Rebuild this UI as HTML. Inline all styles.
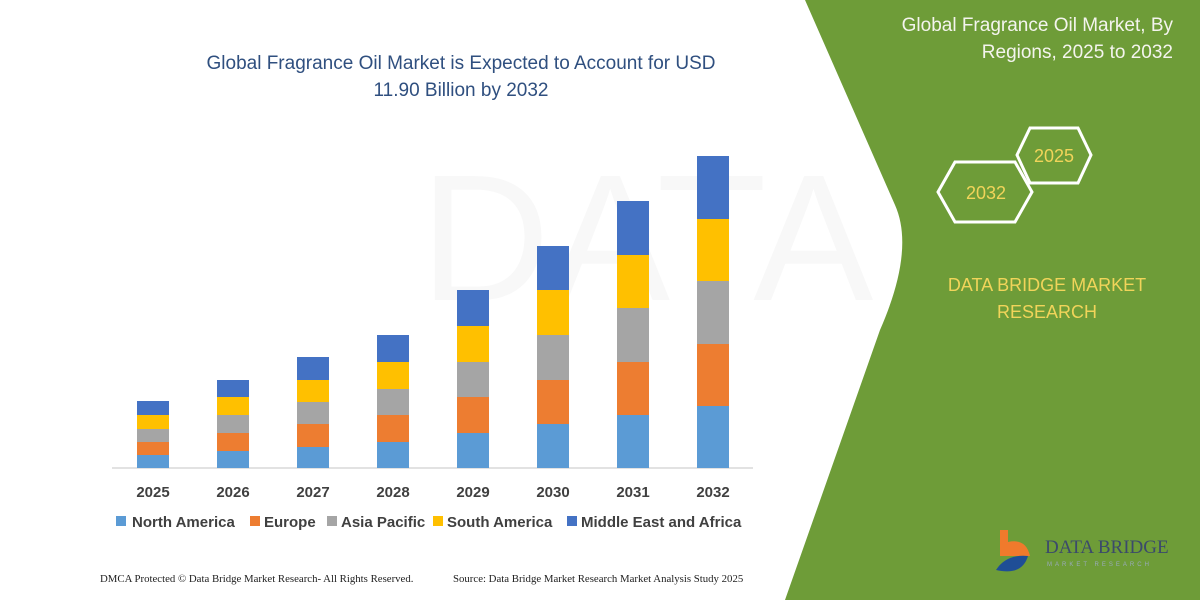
<!DOCTYPE html>
<html><head><meta charset="utf-8"><style>
body{margin:0;width:1200px;height:600px;overflow:hidden;background:#fff;font-family:"Liberation Sans",sans-serif}
</style></head><body>
<svg width="1200" height="600" xmlns="http://www.w3.org/2000/svg" style="position:absolute;left:0;top:0">
<rect width="1200" height="600" fill="#fff"/>
<text x="420" y="300" font-size="180" fill="#f8f8f8" font-family="Liberation Sans">DATA BRIDGE</text>
<path d="M805,0 L1200,0 L1200,600 L785,600 L880,330 Q915,250 895,205 Z" fill="#6e9c38"/>
<text x="1173" y="31" text-anchor="end" font-size="19" fill="#f4f4ee">Global Fragrance Oil Market, By</text>
<text x="1173" y="58" text-anchor="end" font-size="19" fill="#f4f4ee">Regions, 2025 to 2032</text>
<polygon points="1017,155 1030,128 1078,128 1091,155 1078,183 1030,183" fill="none" stroke="#fff" stroke-width="3"/>
<polygon points="938,192 955,162 1015,162 1032,192 1015,222 955,222" fill="none" stroke="#fff" stroke-width="3"/>
<text x="1054" y="162" text-anchor="middle" font-size="18" fill="#f1d45a">2025</text>
<text x="986" y="199" text-anchor="middle" font-size="18" fill="#f1d45a">2032</text>
<text x="1047" y="291" text-anchor="middle" font-size="18" fill="#f1d45a">DATA BRIDGE MARKET</text>
<text x="1047" y="318" text-anchor="middle" font-size="18" fill="#f1d45a">RESEARCH</text>
<path d="M1000,530 h8 v12 q18,-4 22,14 h-30 z" fill="#f07a2c"/>
<path d="M996,570 q10,-16 32,-14 q-6,20 -32,14z" fill="#1f4e96"/>
<text x="1045" y="553" font-size="19" fill="#3b4a6b" font-family="Liberation Serif">DATA BRIDGE</text>
<text x="1047" y="566" font-size="6" fill="#9ab" letter-spacing="3">MARKET RESEARCH</text>
<text x="461" y="69" text-anchor="middle" font-size="19" fill="#2f4f7f">Global Fragrance Oil Market is Expected to Account for USD</text>
<text x="461" y="96" text-anchor="middle" font-size="19" fill="#2f4f7f">11.90 Billion by 2032</text>
<line x1="112" y1="468" x2="753" y2="468" stroke="#d9d9d9" stroke-width="1.5"/>
<g id="bars"></g>
<g font-size="15" font-weight="bold" fill="#404040" text-anchor="middle">
<text x="153" y="497">2025</text><text x="233" y="497">2026</text><text x="313" y="497">2027</text><text x="393" y="497">2028</text><text x="473" y="497">2029</text><text x="553" y="497">2030</text><text x="633" y="497">2031</text><text x="713" y="497">2032</text>
</g>
<g font-size="15" font-weight="bold" fill="#404040">
<rect x="116" y="516" width="10" height="10" fill="#5b9bd5"/><text x="132" y="527">North America</text>
<rect x="250" y="516" width="10" height="10" fill="#ed7d31"/><text x="264" y="527">Europe</text>
<rect x="327" y="516" width="10" height="10" fill="#a5a5a5"/><text x="341" y="527">Asia Pacific</text>
<rect x="433" y="516" width="10" height="10" fill="#ffc000"/><text x="447" y="527">South America</text>
<rect x="567" y="516" width="10" height="10" fill="#4472c4"/><text x="581" y="527">Middle East and Africa</text>
</g>
<text x="100" y="582" font-size="10.8" fill="#222" font-family="Liberation Serif">DMCA Protected © Data Bridge Market Research-  All Rights Reserved.</text>
<text x="453" y="582" font-size="10.8" fill="#222" font-family="Liberation Serif">Source: Data Bridge Market Research  Market Analysis Study 2025</text>
</svg>
<script>
var d=[[153,455,442,429,415,401],[233,451,433,415,397,380],[313,447,424,402,380,357],[393,442,415,389,362,335],[473,433,397,362,326,290],[553,424,380,335,290,246],[633,415,362,308,255,201],[713,406,344,281,219,156]];
var c=["#5b9bd5","#ed7d31","#a5a5a5","#ffc000","#4472c4"],s="";
d.forEach(function(b){var prev=468;for(var i=0;i<5;i++){s+='<rect x="'+(b[0]-16)+'" y="'+b[i+1]+'" width="32" height="'+(prev-b[i+1])+'" fill="'+c[i]+'"/>';prev=b[i+1];}});
document.getElementById("bars").innerHTML=s;
</script>
</body></html>
